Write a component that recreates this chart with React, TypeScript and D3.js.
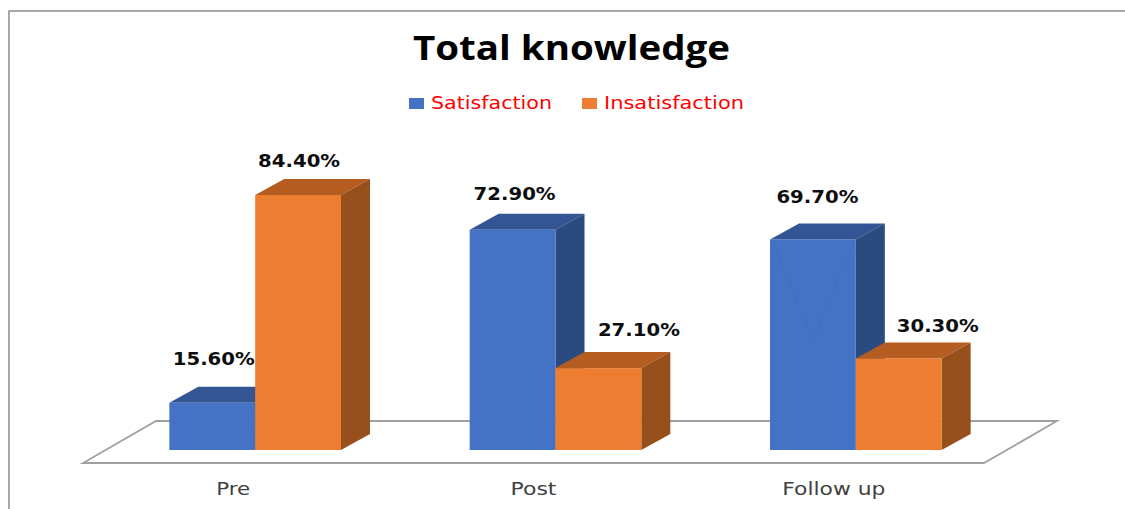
import React, { useEffect, useRef } from "react";
import * as d3 from "d3";

const categories = ["Pre", "Post", "Follow up"];
const seriesNames = ["Satisfaction", "Insatisfaction"];
const satisfaction = [15.6, 72.9, 69.7];
const insatisfaction = [84.4, 27.1, 30.3];

const width = 1125;
const height = 509;
const baseY = 450;
const dx = 29;
const dy = -16;
const palette = [
  { front: "#4472c4", top: "#335593", side: "#2a4a80" },
  { front: "#ed7d31", top: "#b55d20", side: "#974f1c" },
];

// the source picture is stretched sideways, so text widths are pinned
const categoryWidths = [34, 46, 103];
const legendWidths = [121, 140];
// hand-placed labels: [shift x from bar centre, gap above bar top]
const labelNudge = [
  [[1.5, 38], [2, 30], [4.5, 36]],
  [[1, 28], [40.5, 32], [39, 26]],
];

export default function App() {
  const ref = useRef<SVGSVGElement>(null);

  useEffect(() => {
    const svg = d3.select(ref.current);
    svg.selectAll("*").remove();

    const x0 = d3
      .scaleBand()
      .domain(categories)
      .range([105, 1006])
      .paddingInner(0.4285)
      .paddingOuter(0.21425);
    const x1 = d3.scaleBand().domain(seriesNames).range([0, x0.bandwidth()]);
    const y = d3.scaleLinear().domain([0, 84.4]).range([baseY, 195]);

    // chart frame, open at the bottom and cut by the page edge
    svg
      .append("path")
      .attr("d", d3.line()([[9, 509], [9, 11], [1125, 11]]))
      .attr("fill", "none")
      .attr("stroke", "#8c8c8c")
      .attr("stroke-width", 1.5);

    // floor
    svg
      .append("path")
      .attr("d", d3.line()([[83, 463], [984, 463], [1057, 421], [156, 421]]) + "Z")
      .attr("fill", "#fff")
      .attr("stroke", "#a0a0a0")
      .attr("stroke-width", 1.8);

    const rows = [satisfaction, insatisfaction];
    categories.forEach((cat, c) => {
      // orange sits in front of the blue side wall, so draw blue first
      seriesNames.forEach((name, s) => {
        const value = rows[s][c];
        const left = x0(cat)! + x1(name)!;
        const right = left + x1.bandwidth();
        const top = y(value);
        const g = svg.append("g");
        g.append("path")
          .attr("d", d3.line()([[left, top], [left + dx, top + dy], [right + dx, top + dy], [right, top]]) + "Z")
          .attr("fill", palette[s].top);
        g.append("path")
          .attr("d", d3.line()([[right, top], [right + dx, top + dy], [right + dx, baseY + dy], [right, baseY]]) + "Z")
          .attr("fill", palette[s].side);
        g.append("rect")
          .attr("x", left)
          .attr("y", top)
          .attr("width", right - left)
          .attr("height", baseY - top)
          .attr("fill", palette[s].front);
      });

      // labels after both bars so they stay on top
      seriesNames.forEach((name, s) => {
        const value = rows[s][c];
        const left = x0(cat)! + x1(name)!;
        const [shift, gap] = labelNudge[s][c];
        svg
          .append("text")
          .attr("x", left + x1.bandwidth() / 2 + shift)
          .attr("y", y(value) - gap)
          .attr("text-anchor", "middle")
          .attr("font-family", "DejaVu Sans")
          .attr("font-weight", "bold")
          .attr("font-size", 17)
          .attr("textLength", 82)
          .attr("lengthAdjust", "spacingAndGlyphs")
          .attr("fill", "#0d0d0d")
          .text(value.toFixed(2) + "%");
      });

      svg
        .append("text")
        .attr("x", x0(cat)! + x0.bandwidth() / 2 - 22)
        .attr("y", 495)
        .attr("text-anchor", "middle")
        .attr("font-family", "DejaVu Sans")
        .attr("font-size", 17)
        .attr("textLength", categoryWidths[c])
        .attr("lengthAdjust", "spacingAndGlyphs")
        .attr("fill", "#404040")
        .text(cat);
    });

    // faint V left in the follow up blue bar
    const vLeft = x0("Follow up")! + x1("Satisfaction")!;
    svg
      .append("path")
      .attr(
        "d",
        d3.line()([
          [vLeft + 2, y(satisfaction[2])],
          [vLeft + x1.bandwidth() / 2, y(36.4)],
          [vLeft + x1.bandwidth() - 1, y(satisfaction[2])],
        ])
      )
      .attr("fill", "none")
      .attr("stroke", "#416ec0")
      .attr("stroke-width", 1);

    // title
    svg
      .append("text")
      .attr("x", 571.5)
      .attr("y", 60)
      .attr("text-anchor", "middle")
      .attr("font-family", "Open Sans")
      .attr("font-weight", "bold")
      .attr("font-size", 34)
      .attr("textLength", 317)
      .attr("lengthAdjust", "spacingAndGlyphs")
      .attr("fill", "#000")
      .text("Total knowledge");

    // legend
    const legendX = d3.scaleOrdinal<string, number>().domain(seriesNames).range([409, 582]);
    seriesNames.forEach((name, s) => {
      svg
        .append("rect")
        .attr("x", legendX(name))
        .attr("y", 98)
        .attr("width", 15)
        .attr("height", 11)
        .attr("fill", palette[s].front);
      svg
        .append("text")
        .attr("x", legendX(name) + 22)
        .attr("y", 109)
        .attr("font-family", "DejaVu Sans")
        .attr("font-size", 17.5)
        .attr("textLength", legendWidths[s])
        .attr("lengthAdjust", "spacingAndGlyphs")
        .attr("fill", "#ff0000")
        .text(name);
    });
  }, []);

  return <svg ref={ref} width={width} height={height} style={{ position: "absolute", left: 0, top: 0 }} />;
}
